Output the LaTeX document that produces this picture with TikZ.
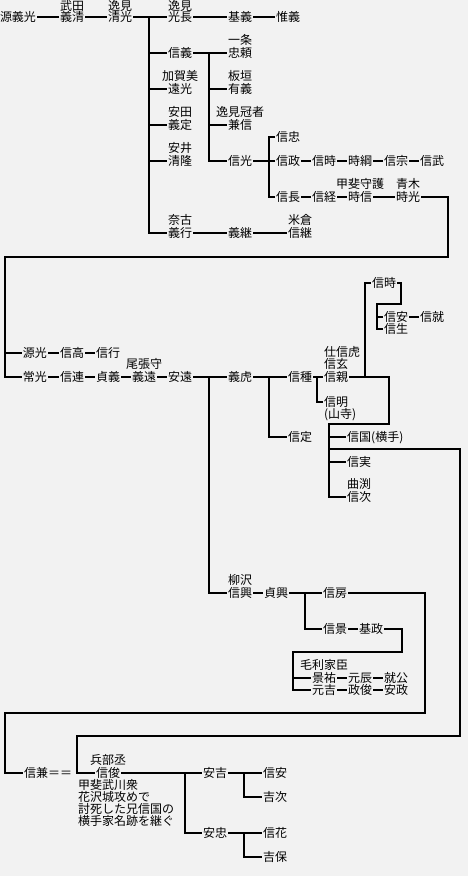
\documentclass[tikz,border=0pt]{standalone}
\usepackage{fontspec}
\newfontfamily\jpfont{Noto Sans CJK JP}
\usetikzlibrary{positioning}
\definecolor{bgcol}{RGB}{242,242,242}

\tikzset{
  ln/.style={line width=1.8pt},
  notebox/.style={align=left,text height=,text depth=,anchor=north west},
}

\begin{document}
\begin{tikzpicture}[x=1pt,y=-1pt,
  font=\jpfont\fontsize{12}{12}\selectfont,
  every node/.style={inner xsep=1pt,inner ysep=0pt,text height=10pt,text depth=2pt}]

\useasboundingbox (0,0) rectangle (468,876);
\fill[bgcol] (0,0) rectangle (468,876);

%%%%%%%%%%%%%%%%%%%%%%%%
% Yoshimitsu -- Kiyomitsu
%%%%%%%%%%%%%%%%%%%%%%%%

\node(yoshimitsu) at (18,17) {源義光};
\node(yoshikiyo) at (72,17) {義清};
\node(yoshikiyo-t) [above=-1.5pt of yoshikiyo] {武田};
\node(kiyomitsu) at (120,17) {清光};
\node(kiyomitsu-t) [above=-1.5pt of kiyomitsu] {逸見};
\node(mitsunaga) at (180,17) {光長};
\node(mitsunaga-t) [above=-1.5pt of mitsunaga] {逸見};
\node(motoyoshi) at (240,17) {基義};
\node(koreyoshi) at (288,17) {惟義};

\draw[ln] (yoshimitsu) -- (yoshikiyo);
\draw[ln] (yoshikiyo) -- (kiyomitsu);
\draw[ln] (kiyomitsu) -- (mitsunaga);
\draw[ln] (mitsunaga) -- (motoyoshi);
\draw[ln] (motoyoshi) -- (koreyoshi);

\coordinate (j1) at (149,17);
\node(nobuyoshi) at (180,53) {信義};
\node(toomitsu) at (180,89) {遠光};
\node(toomitsu-t) [above=0pt of toomitsu] {加賀美};
\node(yoshisada) at (180,125) {義定};
\node(yoshisada-t) [above=0pt of yoshisada] {安田};
\node(kiyotaka) at (180,161) {清隆};
\node(kiyotaka-t) [above=0pt of kiyotaka] {安井};
\node(yoshiyuki) at (180,233) {義行};
\node(yoshiyuki-t) [above=0pt of yoshiyuki] {奈古};

\draw[ln] (j1) |- (nobuyoshi);
\draw[ln] (j1) |- (toomitsu);
\draw[ln] (j1) |- (yoshisada);
\draw[ln] (j1) |- (kiyotaka);
\draw[ln] (j1) |- (yoshiyuki);

%%%%%%%%%%%%%%%%%%%%%%%%
% Nobuyoshi
%%%%%%%%%%%%%%%%%%%%%%%%

\coordinate (j2) at (209,53);
\node(tadayori) at (240,53) {忠頼};
\node(tadayori-t) [above=0pt of tadayori] {一条};
\node(ariyoshi) at (240,89) {有義};
\node(ariyoshi-t) [above=0pt of ariyoshi] {板垣};
\node(kanenobu) at (240,125) {兼信};
\node(kanenobu-t) [above=0pt of kanenobu] {逸見冠者};
\node(nobumitsu) at (240,161) {信光};

\draw[ln] (nobuyoshi) -- (tadayori);
\draw[ln] (j2) |- (ariyoshi);
\draw[ln] (j2) |- (kanenobu);
\draw[ln] (j2) |- (nobumitsu);

\coordinate (j3) at (269,161);
\node(nobutada) at (288,137) {信忠};
\node(nobumasa) at (288,161) {信政};
\node(nobutoki) at (324,161) {信時};
\node(tokitsuna) at (360,161) {時綱};
\node(nobumune) at (396,161) {信宗};
\node(nobutake) at (432,161) {信武};
\node(nobunaga) at (288,197) {信長};
\node(nobutsune) at (324,197) {信経};
\node(tokinobu) at (360,197) {時信};
\node(tokinobu-t) [above=0pt of tokinobu] {甲斐守護};
\node(tokimitsu) at (408,197) {時光};
\node(tokimitsu-t) [above=0pt of tokimitsu] {青木};

\draw[ln] (nobumitsu) -- (nobumasa);
\draw[ln] (j3) |- (nobutada);
\draw[ln] (j3) |- (nobunaga);
\draw[ln] (nobumasa) -- (nobutoki);
\draw[ln] (nobutoki) -- (tokitsuna);
\draw[ln] (tokitsuna) -- (nobumune);
\draw[ln] (nobumune) -- (nobutake);
\draw[ln] (nobunaga) -- (nobutsune);
\draw[ln] (nobutsune) -- (tokinobu);
\draw[ln] (tokinobu) -- (tokimitsu);

\node(yoshitsugu) at (240,233) {義継};
\node(nobutsugu) at (300,233) {信継};
\node(nobutsugu-t) [above=0pt of nobutsugu] {米倉};

\draw[ln] (yoshiyuki) -- (yoshitsugu);
\draw[ln] (yoshitsugu) -- (nobutsugu);

%%%%%%%%%%%%%%%%%%%%%%%%
% Tokimitsu -- Yoshitora
%%%%%%%%%%%%%%%%%%%%%%%%

\coordinate (r1) at (448,257);
\coordinate (r2) at (5,257);
\node(genkou) at (35,353) {源光};
\node(nobutaka) at (72,353) {信高};
\node(nobuyuki) at (108,353) {信行};
\node(tsunemitsu) at (35,377) {常光};
\node(nobutsura) at (72,377) {信連};
\node(sadayoshi) at (108,377) {貞義};
\node(yoshitoo) at (144,377) {義遠};
\node(yoshitoo-t) [above=0pt of yoshitoo] {尾張守};
\node(yasutoo) at (180,377) {安遠};
\node(yoshitora) at (240,377) {義虎};

\draw[ln] (tokimitsu) -| (r1) -- (r2) |- (tsunemitsu);
\draw[ln] (r2) |- (genkou);
\draw[ln] (genkou) -- (nobutaka);
\draw[ln] (nobutaka) -- (nobuyuki);
\draw[ln] (tsunemitsu) -- (nobutsura);
\draw[ln] (nobutsura) -- (sadayoshi);
\draw[ln] (sadayoshi) -- (yoshitoo);
\draw[ln] (yoshitoo) -- (yasutoo);
\draw[ln] (yasutoo) -- (yoshitora);

%%%%%%%%%%%%%%%%%%%%%%%%
% Yoshitora
%%%%%%%%%%%%%%%%%%%%%%%%

\coordinate (j4) at (269,377);
\coordinate (j5) at (317,377);
\node(nobutane) at (300,377) {信種};
\node(nobusada) at (300,437) {信定};
\node(nobuchika) at (336,377) {信親};
\node(nobuchika-t1) [anchor=south west] at (nobuchika.north west) {信玄};
\node(nobuchika-t2) [anchor=south west] at (nobuchika-t1.north west) {仕信虎};
\node(nobuaki) at (336,402) {信明};
\node(nobuaki-b) [anchor=north west] at (nobuaki.south west) {(山寺)};

\draw[ln] (yoshitora) -- (nobutane);
\draw[ln] (j4) |- (nobusada);
\draw[ln] (nobutane) -- (nobuchika);
\draw[ln] (j5) |- (nobuaki);

\coordinate (p0) at (365,377);
\coordinate (s1) at (401,304);
\coordinate (s2) at (377,304);
\node(nobutoki2) at (384,283) {信時};
\node(nobuyasu) at (396,317) {信安};
\node(nobunari) at (432,317) {信就};
\node(nobuo) at (396,329) {信生};

\draw[ln] (p0) |- (nobutoki2);
\draw[ln] (nobutoki2) -| (s1) -- (s2) |- (nobuo);
\draw[ln] (s2) |- (nobuyasu);
\draw[ln] (nobuyasu) -- (nobunari);

\coordinate (q1) at (389,424);
\coordinate (q2) at (329,424);
\coordinate (q3) at (329,449);
\node(nobukuni) [anchor=west] at (346,437) {信国(横手)};
\node(nobuzane) at (359,462) {信実};
\node(nobutsugu2) at (359,497) {信次};
\node(nobutsugu2-t) [above=0pt of nobutsugu2] {曲渕};

\draw[ln] (nobuchika) -| (q1) -- (q2) |- (nobutsugu2);
\draw[ln] (q2) |- (nobukuni);
\draw[ln] (q2) |- (nobuzane);

%%%%%%%%%%%%%%%%%%%%%%%%
% Yanagisawa
%%%%%%%%%%%%%%%%%%%%%%%%

\coordinate (j6) at (209,377);
\coordinate (j7) at (305,593);
\node(nobuoki) at (240,593) {信興};
\node(nobuoki-t) [above=0pt of nobuoki] {柳沢};
\node(sadaoki) at (276,593) {貞興};
\node(nobufusa) at (335,593) {信房};
\node(nobukage) at (335,629) {信景};
\node(motomasa) at (371,629) {基政};

\draw[ln] (j6) |- (nobuoki);
\draw[ln] (nobuoki) -- (sadaoki);
\draw[ln] (sadaoki) -- (nobufusa);
\draw[ln] (j7) |- (nobukage);
\draw[ln] (nobukage) -- (motomasa);

\coordinate (u1) at (402,652);
\coordinate (u2) at (293,652);
\node(kagesuke) at (324,678) {景祐};
\node(kagesuke-t) [above=0pt of kagesuke] {毛利家臣};
\node(mototoki) at (360,678) {元辰};
\node(narikimi) at (396,678) {就公};
\node(motoyoshi2) at (324,690) {元吉};
\node(masatoshi) at (360,690) {政俊};
\node(yasumasa) at (396,690) {安政};

\draw[ln] (motomasa) -| (u1) -- (u2) |- (motoyoshi2);
\draw[ln] (u2) |- (kagesuke);
\draw[ln] (kagesuke) -- (mototoki);
\draw[ln] (mototoki) -- (narikimi);
\draw[ln] (motoyoshi2) -- (masatoshi);
\draw[ln] (masatoshi) -- (yasumasa);

%%%%%%%%%%%%%%%%%%%%%%%%
% Nobukane, Nobutoshi
%%%%%%%%%%%%%%%%%%%%%%%%

\coordinate (m1) at (425,713);
\coordinate (m2) at (5,713);
\coordinate (k1) at (460,736);
\coordinate (k2) at (77,736);
\node(nobukane) at (48,773) {信兼＝＝};
\node(nobutoshi) at (108,773) {信俊};
\node(nobutoshi-t) [above=0pt of nobutoshi] {兵部丞};
\node(note) [notebox] at (77,779) {甲斐武川衆\\花沢城攻めで\\討死した兄信国の\\横手家名跡を継ぐ};

\draw[ln] (nobufusa) -| (m1) -- (m2) |- (nobukane);
\draw[ln] (q3) -| (k1) -- (k2) |- (nobutoshi);

\coordinate (j8) at (185,773);
\coordinate (j9) at (244,773);
\coordinate (j10) at (244,833);
\node(yasuyoshi) at (215,773) {安吉};
\node(yasutada) at (215,833) {安忠};
\node(nobuyasu2) at (275,773) {信安};
\node(yoshitsugu2) at (275,797) {吉次};
\node(nobuhana) at (275,833) {信花};
\node(yoshiyasu) at (275,857) {吉保};

\draw[ln] (nobutoshi) -- (yasuyoshi);
\draw[ln] (j8) |- (yasutada);
\draw[ln] (yasuyoshi) -- (nobuyasu2);
\draw[ln] (j9) |- (yoshitsugu2);
\draw[ln] (yasutada) -- (nobuhana);
\draw[ln] (j10) |- (yoshiyasu);

\end{tikzpicture}
\end{document}
